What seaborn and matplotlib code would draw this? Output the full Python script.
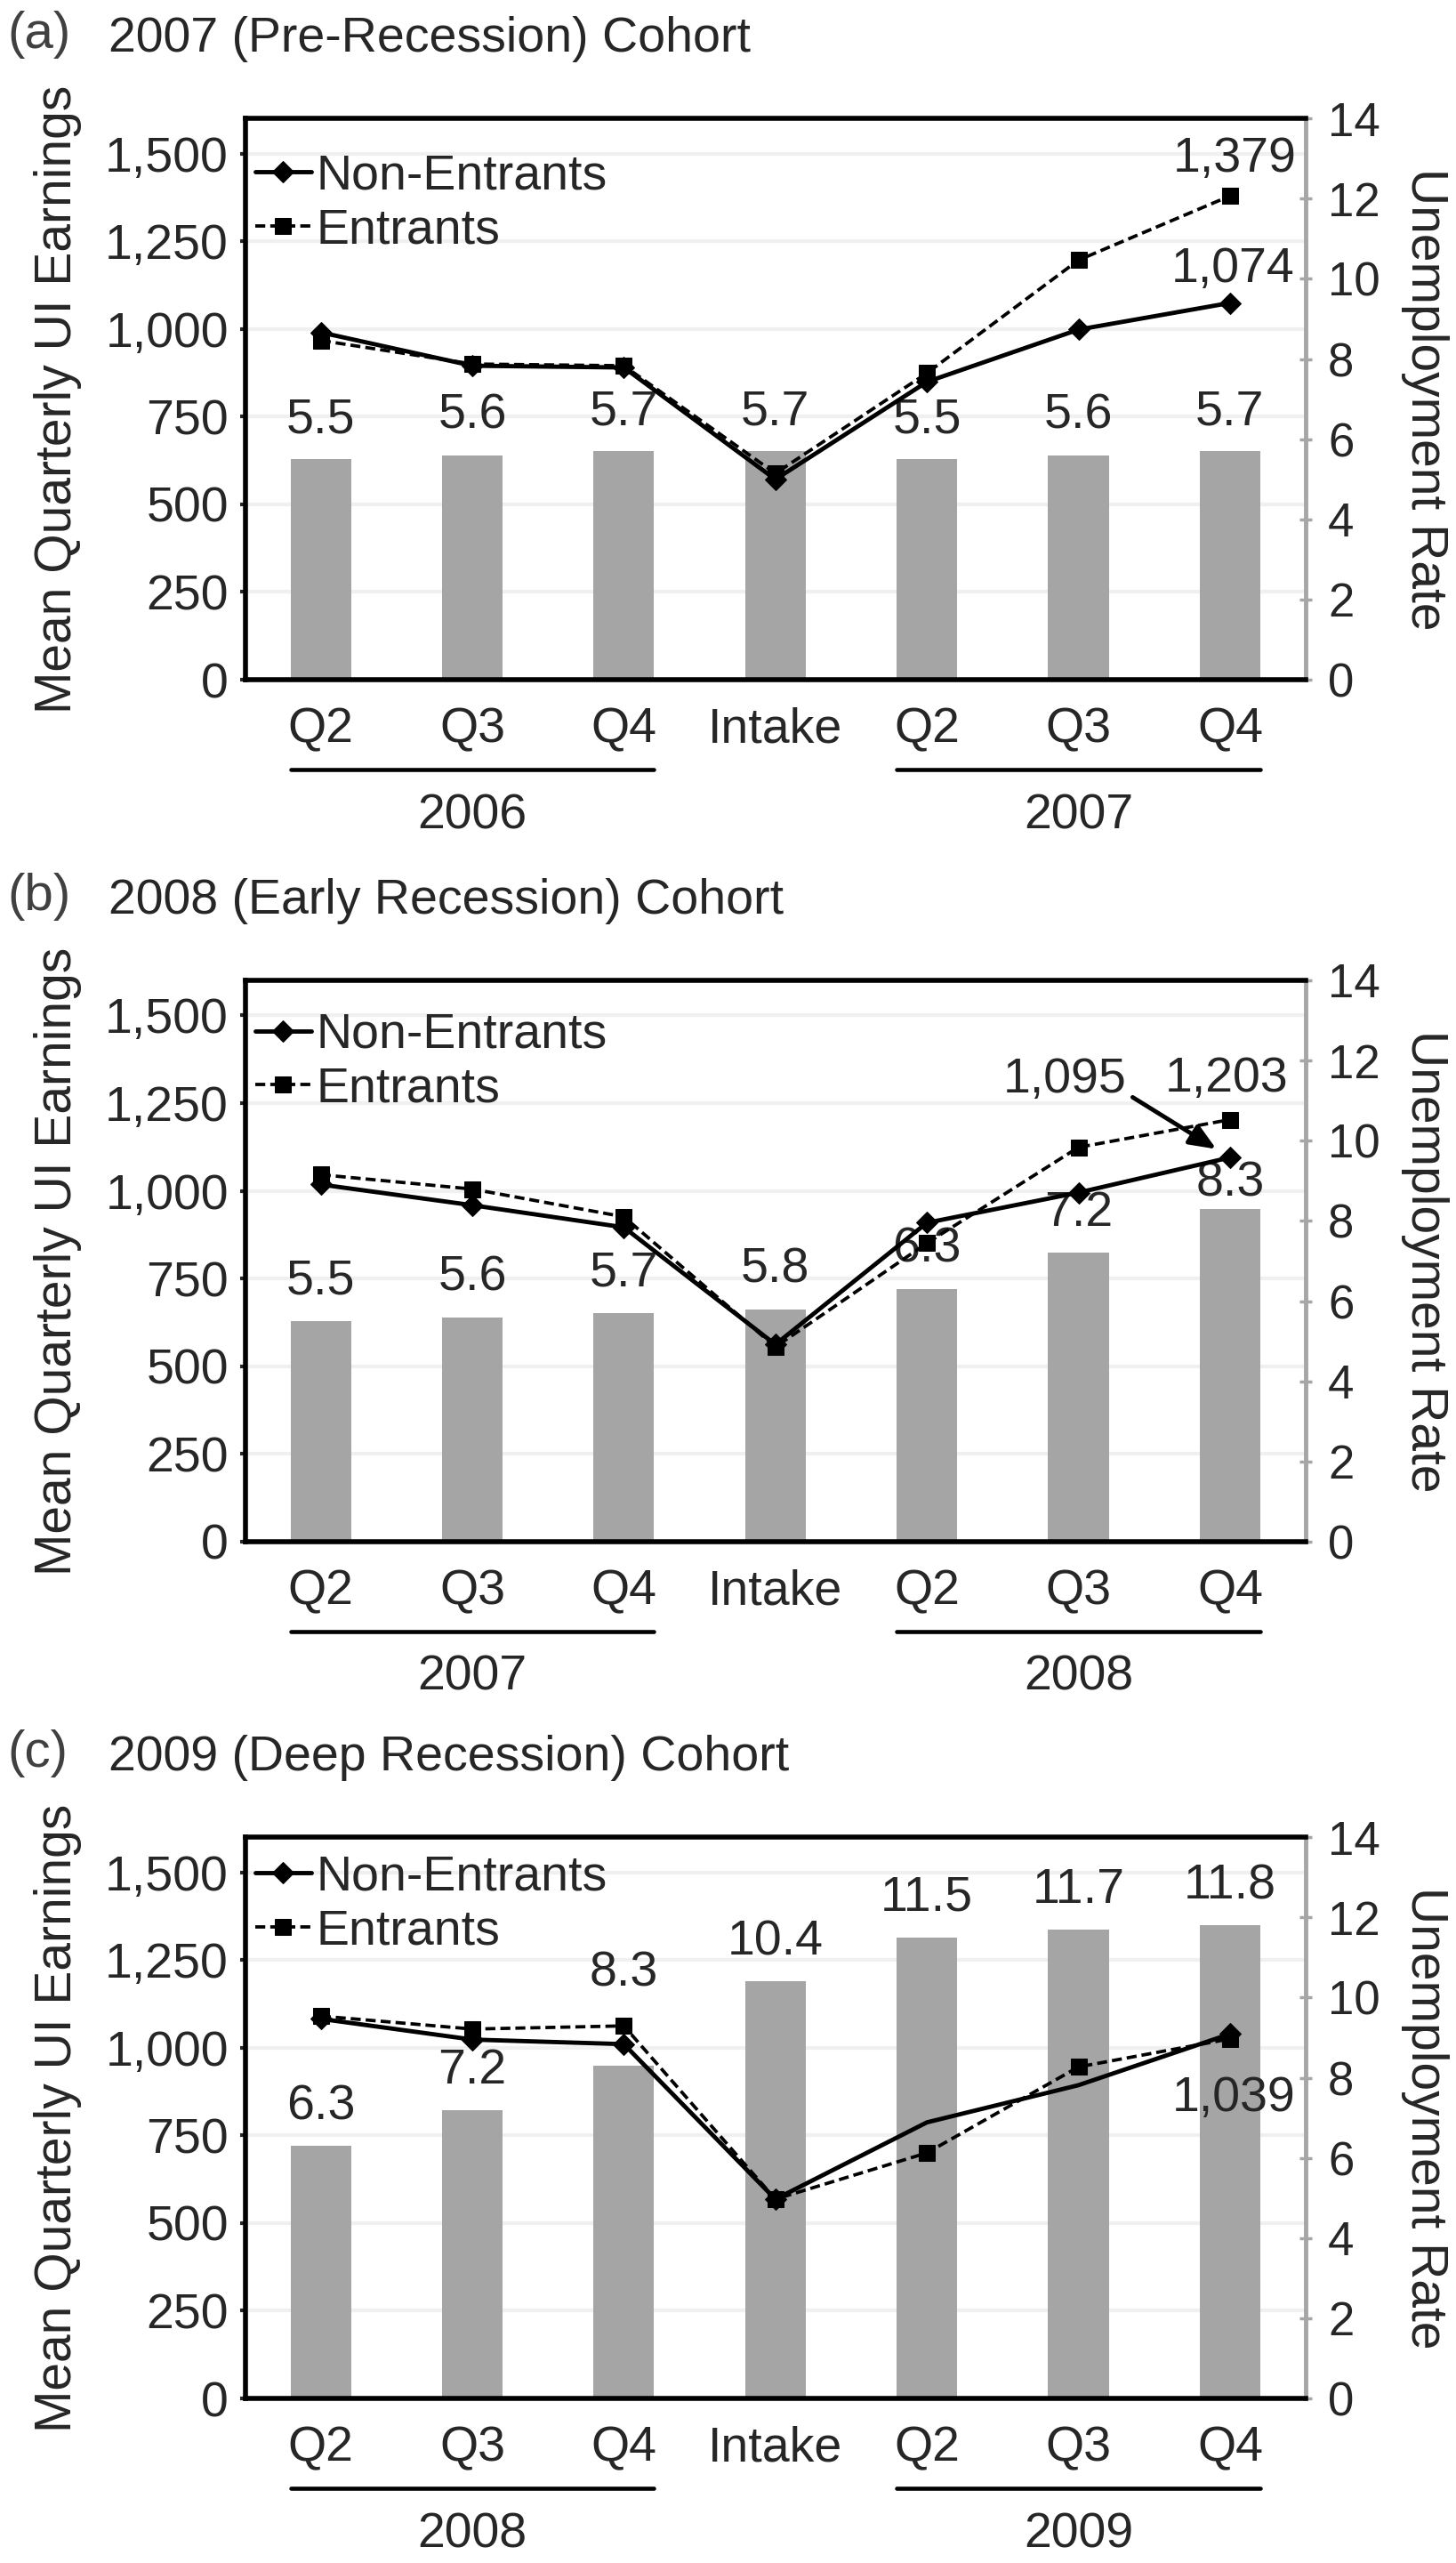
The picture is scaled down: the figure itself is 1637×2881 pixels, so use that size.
import numpy as np
import pandas as pd
import matplotlib
matplotlib.use("Agg")
import matplotlib.pyplot as plt
import matplotlib.transforms as mtransforms
from matplotlib.ticker import FuncFormatter
import seaborn as sns

sns.set_style("white")
plt.rcParams["font.family"] = ["Liberation Sans", "DejaVu Sans"]

# data
quarters = ["Q2", "Q3", "Q4", "Intake", "Q2", "Q3", "Q4"]
panel_tags = ["(a)", "(b)", "(c)"]
panel_titles = ["2007 (Pre-Recession) Cohort",
                "2008 (Early Recession) Cohort",
                "2009 (Deep Recession) Cohort"]
year_left = ["2006", "2007", "2008"]
year_right = ["2007", "2008", "2009"]

unemp_a = [5.5, 5.6, 5.7, 5.7, 5.5, 5.6, 5.7]
unemp_b = [5.5, 5.6, 5.7, 5.8, 6.3, 7.2, 8.3]
unemp_c = [6.3, 7.2, 8.3, 10.4, 11.5, 11.7, 11.8]

non_entrants_a = [990, 895, 890, 571, 849, 998, 1074]
entrants_a = [967, 900, 895, 588, 874, 1196, 1379]
non_entrants_b = [1018, 959, 896, 562, 909, 995, 1095]
entrants_b = [1046, 1005, 926, 555, 851, 1124, 1203]
non_entrants_c = [1082, 1023, 1010, 568, 787, 893, 1039]
entrants_c = [1090, 1053, 1062, 568, 700, 945, 1025]

unemp = [unemp_a, unemp_b, unemp_c]
non_entrants = [non_entrants_a, non_entrants_b, non_entrants_c]
entrants = [entrants_a, entrants_b, entrants_c]

BAR = "#a5a5a5"
GREY = "#a6a6a6"
FS = 40

fig = plt.figure(figsize=(16.37, 28.81), dpi=100)
bottoms = [0.7348, 0.3985, 0.0642]
legend_top = [0.937, 0.943, 0.969]
# bar labels that were nudged in the original (panel, bar) -> offset pts
label_nudge = {(1, 6): 2, (2, 2): 56}
# panel (c) draws no diamonds on the 2009 Q2/Q3 points
ne_marks = [None, None, [0, 1, 2, 3, 6]]
pos = list(range(len(quarters)))

for i in range(3):
    ax = fig.add_axes([0.1683, bottoms[i], 0.7285, 0.219])
    ax2 = ax.twinx()

    df = pd.DataFrame({"pos": pos, "rate": unemp[i],
                       "non": non_entrants[i], "ent": entrants[i]})

    # unemployment bars on the right axis (behind)
    sns.barplot(data=df, x="pos", y="rate", ax=ax2, color=BAR,
                width=0.4, saturation=1, linewidth=0)
    labels = ax2.bar_label(ax2.containers[0], fmt="%.1f", padding=13,
                           fontsize=FS)
    for (p, k), off in label_nudge.items():
        if p == i:
            labels[k].xyann = (0, off)
    ax2.set_ylim(0, 14)
    ax2.set_yticks(range(0, 15, 2))
    ax2.set_yticks(np.arange(250, 1600, 250) * 14 / 1600, minor=True)
    ax2.grid(which="minor", axis="y", color="#f0f0f0", lw=3)
    ax2.tick_params(axis="y", which="minor", length=0)
    ax2.tick_params(axis="y", which="major", labelsize=FS - 2, color=GREY,
                    direction="inout", length=10, width=2.5, pad=13)
    ax2.set_ylabel("Unemployment Rate", rotation=270, fontsize=FS + 1,
                   va="center")
    ax2.yaxis.set_label_coords(1.112, 0.5)
    for s in ["left", "top", "bottom"]:
        ax2.spines[s].set_visible(False)
    ax2.spines["right"].set_color(GREY)
    ax2.spines["right"].set_linewidth(3.5)

    # earnings lines on the left axis (front)
    sns.lineplot(data=df, x="pos", y="non", ax=ax, color="black", lw=3.5,
                 marker="D", markersize=12, markeredgecolor="black",
                 markevery=ne_marks[i], label="Non-Entrants")
    sns.lineplot(data=df, x="pos", y="ent", ax=ax, color="black", lw=2.7,
                 ls=(0, (3, 1.5)), marker="s", markersize=13,
                 markeredgecolor="black", label="Entrants")
    ax.set_zorder(ax2.get_zorder() + 1)
    ax.patch.set_visible(False)
    ax.set_ylim(0, 1600)
    ax.set_yticks(range(0, 1501, 250))
    ax.yaxis.set_major_formatter(FuncFormatter(lambda v, p: f"{int(v):,}"))
    ax.set_xlim(-0.5, 6.5)
    ax.set_xticks(pos)
    ax.set_xticklabels(quarters)
    ax.tick_params(axis="y", labelsize=FS, length=4.5, width=3, pad=9)
    ax.tick_params(axis="x", labelsize=FS, length=0, pad=22)
    ax.set_xlabel("")
    ax.set_ylabel("Mean Quarterly UI Earnings", fontsize=FS + 1, va="center")
    ax.yaxis.set_label_coords(-0.1765, 0.5)
    ax.spines["right"].set_visible(False)
    for s in ["left", "bottom", "top"]:
        ax.spines[s].set_color("black")
        ax.spines[s].set_linewidth(4)

    ax.legend(loc="upper left", bbox_to_anchor=(0.0096, legend_top[i]),
              frameon=False, fontsize=FS, handlelength=1.13,
              handletextpad=0.1, labelspacing=0.16, borderaxespad=0,
              borderpad=0)

    # year group lines under the ticks
    tr = mtransforms.blended_transform_factory(ax.transData, ax.transAxes)
    ax.plot([-0.2, 2.2], [-0.16, -0.16], color="black", lw=3.3,
            transform=tr, clip_on=False)
    ax.plot([3.8, 6.2], [-0.16, -0.16], color="black", lw=3.3,
            transform=tr, clip_on=False)
    ax.text(1, -0.2425, year_left[i], transform=tr, ha="center",
            va="center", fontsize=FS)
    ax.text(5, -0.2425, year_right[i], transform=tr, ha="center",
            va="center", fontsize=FS)

    # panel titles
    top = bottoms[i] + 0.219
    fig.text(0.005, top + 0.0325, panel_tags[i], fontsize=FS + 2,
             color="#404040", va="center")
    fig.text(0.0745, top + 0.0309, panel_titles[i], fontsize=FS,
             va="center")

    # earnings labels on the last quarter
    if i == 0:
        ax.annotate(f"{entrants[i][6]:,}", (6, entrants[i][6]),
                    xytext=(4, 30), textcoords="offset points",
                    ha="center", va="center", fontsize=FS)
        ax.annotate(f"{non_entrants[i][6]:,}", (6, non_entrants[i][6]),
                    xytext=(2, 27), textcoords="offset points",
                    ha="center", va="center", fontsize=FS)
    elif i == 1:
        ax.annotate(f"{entrants[i][6]:,}", (6, entrants[i][6]),
                    xytext=(-3, 33), textcoords="offset points",
                    ha="center", va="center", fontsize=FS)
        ax.annotate(f"{non_entrants[i][6]:,}", (6, non_entrants[i][6]),
                    xytext=(4.91, 1317), textcoords="data",
                    ha="center", va="center", fontsize=FS,
                    arrowprops=dict(arrowstyle="-|>,head_length=0.6,head_width=0.25",
                                    color="black", lw=3.5, mutation_scale=30,
                                    relpos=(1.0, 0.2), shrinkA=3, shrinkB=13))
    else:
        ax.annotate(f"{non_entrants[i][6]:,}", (6, non_entrants[i][6]),
                    xytext=(3, -52), textcoords="offset points",
                    ha="center", va="center", fontsize=FS)

fig.savefig("out.png", dpi=100, facecolor="white")
